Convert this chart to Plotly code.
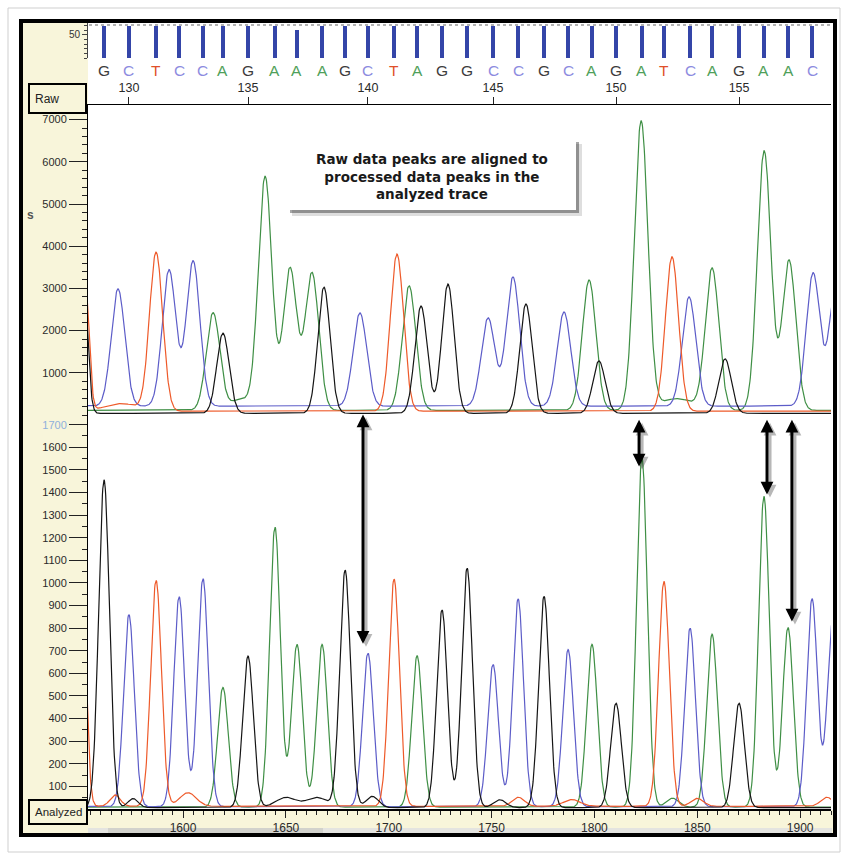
import numpy as np
import plotly.graph_objects as go

W, H = 844, 859

# ------------------------------------------------------------------ data
bases = ["G", "C", "T", "C", "C", "A", "G", "A", "A", "A", "G", "C", "T", "A", "G",
         "G", "C", "C", "G", "C", "A", "G", "A", "T", "C", "A", "G", "A", "A", "C"]
first_base_number = 129
base_scan = [1561.6, 1573.7, 1586.9, 1598.1, 1609.7, 1619.4, 1631.6, 1644.7, 1655.4, 1667.6,
             1678.8, 1689.9, 1702.6, 1713.8, 1725.9, 1738.1, 1750.7, 1762.9, 1775.5, 1787.2,
             1798.8, 1810.5, 1823.1, 1833.8, 1846.5, 1857.2, 1870.3, 1882.4, 1894.1, 1905.8]
analyzed_height = [1450, 850, 1000, 930, 1010, 530, 670, 1240, 720, 720,
                   1050, 680, 1005, 670, 875, 1060, 630, 920, 935, 695,
                   720, 462, 1545, 995, 790, 765, 462, 1375, 795, 920]
quality_values = [70, 70, 70, 70, 70, 70, 70, 70, 61, 70,
                  70, 70, 70, 70, 70, 70, 70, 70, 70, 70,
                  70, 70, 70, 70, 70, 70, 70, 70, 70, 70]

# raw trace peaks: (scan, height above baseline, width)
raw_peaks_A = [(1614.6, 2310, 3.3), (1628.0, 260, 5.0), (1639.9, 5530, 3.3), (1652.0, 3370, 3.3),
               (1662.7, 3255, 3.3), (1709.9, 2950, 3.3), (1797.4, 3090, 3.3), (1822.7, 6835, 3.3),
               (1840.0, 280, 8.0), (1857.2, 3350, 3.3), (1882.5, 6150, 3.3), (1894.6, 3560, 3.3)]
raw_peaks_C = [(1568.4, 2780, 3.3), (1593.2, 3230, 3.3), (1604.9, 3440, 3.3), (1686.0, 2210, 3.3),
               (1748.3, 2090, 3.3), (1760.4, 3060, 3.3), (1785.2, 2230, 3.3), (1846.0, 2590, 3.3),
               (1906.3, 3155, 3.3), (1917.5, 2900, 3.3)]
raw_peaks_G = [(1551.5, 3200, 2.0), (1619.4, 1900, 3.0), (1668.5, 2990, 3.0), (1715.7, 2540, 3.0),
               (1728.8, 3065, 3.0), (1766.7, 2590, 3.0), (1802.2, 1240, 3.0), (1863.5, 1290, 3.0)]
raw_peaks_T = [(1552.5, 3000, 1.8), (1570.0, 180, 8.0), (1586.9, 3750, 3.2),
               (1704.0, 3725, 3.2), (1837.7, 3660, 3.2)]
raw_baseline = {"A": 110, "C": 210, "G": 40, "T": 90}

# analyzed trace: small off-call bumps and the partial peak at the right edge
analyzed_minor_A = [(1838.0, 40, 3.0)]
analyzed_minor_C = [(1915.8, 820, 2.6)]
analyzed_minor_G = [(1575.7, 40, 2.5), (1650.0, 45, 5.0), (1665.0, 45, 5.0),
                    (1692.0, 50, 3.0), (1754.0, 35, 3.0)]
analyzed_minor_T = [(1551.0, 900, 2.0), (1567.0, 50, 2.5), (1602.4, 60, 4.0), (1763.0, 40, 3.0),
                    (1789.0, 30, 4.0), (1850.0, 35, 3.0), (1913.0, 40, 3.0)]
analyzed_baseline = {"A": 8, "C": 10, "G": 6, "T": 12}
analyzed_sigma = 2.6

raw_ticks = [1000, 2000, 3000, 4000, 5000, 6000, 7000]
analyzed_ticks = [100, 200, 300, 400, 500, 600, 700, 800, 900, 1000,
                  1100, 1200, 1300, 1400, 1500, 1600, 1700]
scan_ticks = [1600, 1650, 1700, 1750, 1800, 1850, 1900]
qv_ticks = [50]

# alignment arrows (scan position, top value, bottom value on analyzed axis)
arrow_scan = [1687.5, 1821.7, 1883.9, 1896.0]
arrow_top = [1752, 1729, 1729, 1729]
arrow_bottom = [731, 1515, 1391, 829]

note_text = "Raw data peaks are aligned to<br>processed data peaks in the<br>analyzed trace"

# ------------------------------------------------------------------ style
trace_color = {"A": "#3f8f45", "C": "#5c5cc8", "G": "#151515", "T": "#ee5a2a"}
letter_color = {"A": "#4fa05a", "C": "#8c8ce0", "G": "#3c3c3c", "T": "#e0502a"}
cream = "#f8f5da"
FONT = "Liberation Sans, Arial, sans-serif"

X_RANGE = [1553.8, 1915.0]


def pxx(x):
    return x / W


def pxy(y):
    return 1 - y / H


def gauss_sum(grid, peaks, base):
    y = np.full_like(grid, float(base))
    for c, h, s in peaks:
        y = y + h * np.exp(-0.5 * ((grid - c) / s) ** 2)
    return y


grid = np.arange(1545.0, 1925.0, 0.2)

fig = go.Figure()

# QV bars
fig.add_trace(go.Bar(x=base_scan, y=quality_values, width=1.9, marker_color="#3445a8",
                     marker_line_width=0, xaxis="x3", yaxis="y3", hoverinfo="skip"))

raw_peaks = {"A": raw_peaks_A, "C": raw_peaks_C, "G": raw_peaks_G, "T": raw_peaks_T}
analyzed_minor = {"A": analyzed_minor_A, "C": analyzed_minor_C,
                  "G": analyzed_minor_G, "T": analyzed_minor_T}

for ch in ["A", "C", "T", "G"]:
    y = gauss_sum(grid, raw_peaks[ch], raw_baseline[ch])
    fig.add_trace(go.Scatter(x=grid, y=y, mode="lines", line=dict(color=trace_color[ch], width=1.2),
                             xaxis="x2", yaxis="y2", hoverinfo="skip"))

for ch in ["A", "C", "T", "G"]:
    peaks = [(s, h, analyzed_sigma) for s, h, b in zip(base_scan, analyzed_height, bases) if b == ch]
    peaks += analyzed_minor[ch]
    y = gauss_sum(grid, peaks, analyzed_baseline[ch])
    fig.add_trace(go.Scatter(x=grid, y=y, mode="lines", line=dict(color=trace_color[ch], width=1.2),
                             xaxis="x", yaxis="y", hoverinfo="skip"))

dom_x = [pxx(88), pxx(831)]
top_idx = [i for i in range(len(bases)) if (first_base_number + i) % 5 == 0]

tickfont = dict(family=FONT, size=11, color="#2a2a2a")
ticktext_an = [str(v) for v in analyzed_ticks]
ticktext_an[-1] = "<span style='color:#8fb0dc'>1700</span>"

fig.update_layout(
    width=W, height=H, margin=dict(l=0, r=0, t=0, b=0),
    paper_bgcolor="white", plot_bgcolor="white", showlegend=False,
    bargap=0,
    xaxis=dict(domain=dom_x, range=X_RANGE, anchor="y", tickvals=scan_ticks,
               ticks="outside", ticklen=7, tickcolor="#222", tickwidth=1,
               minor=dict(dtick=5, tick0=1600, ticks="outside", ticklen=4, tickcolor="#222"),
               showline=True, linecolor="black", linewidth=1.5, showgrid=False, zeroline=False,
               tickfont=dict(family=FONT, size=12, color="#2a2a2a")),
    yaxis=dict(domain=[pxy(809), pxy(417)], range=[0, 1734], anchor="x",
               tickvals=analyzed_ticks, ticktext=ticktext_an,
               ticks="outside", ticklen=18, tickcolor="#222", tickwidth=1,
               minor=dict(dtick=50, ticks="outside", ticklen=5, tickcolor="#222"),
               showline=True, linecolor="black", linewidth=1, showgrid=False, zeroline=False,
               tickfont=tickfont),
    xaxis2=dict(domain=dom_x, range=X_RANGE, anchor="y2", side="top",
                tickvals=[base_scan[i] for i in top_idx],
                ticktext=[str(first_base_number + i) for i in top_idx],
                ticks="outside", ticklen=7, tickcolor="#222",
                showline=True, linecolor="black", linewidth=1, showgrid=False, zeroline=False,
                tickfont=dict(family=FONT, size=12.5, color="#2a2a2a")),
    yaxis2=dict(domain=[pxy(417), pxy(105)], range=[-47, 7347], anchor="x2",
                tickvals=raw_ticks, ticks="outside", ticklen=18, tickcolor="#222",
                minor=dict(dtick=200, ticks="outside", ticklen=5, tickcolor="#222"),
                showline=True, linecolor="black", linewidth=1, showgrid=False, zeroline=False,
                tickfont=tickfont),
    xaxis3=dict(domain=dom_x, range=X_RANGE, anchor="y3", visible=False),
    yaxis3=dict(domain=[pxy(58), pxy(22)], range=[0, 78], anchor="x3",
                tickvals=qv_ticks, ticks="outside", ticklen=5, tickcolor="#444",
                minor=dict(dtick=10, ticks="outside", ticklen=3, tickcolor="#444"),
                showline=True, linecolor="#444", linewidth=1, showgrid=False, zeroline=False,
                tickfont=dict(family=FONT, size=10, color="#333")),
)

shapes = []
# outer light frame
shapes.append(dict(type="rect", xref="paper", yref="paper", x0=pxx(8), x1=pxx(840),
                   y0=pxy(852), y1=pxy(8), line=dict(color="#cfcfcf", width=1), layer="below"))
# cream label panels
shapes.append(dict(type="rect", xref="paper", yref="paper", x0=pxx(22), x1=pxx(88),
                   y0=pxy(834), y1=pxy(22), fillcolor=cream, line=dict(width=0), layer="below"))
shapes.append(dict(type="rect", xref="paper", yref="paper", x0=pxx(88), x1=pxx(834),
                   y0=pxy(834), y1=pxy(810), fillcolor=cream, line=dict(width=0), layer="below"))
# scroll bar strip
shapes.append(dict(type="rect", xref="paper", yref="paper", x0=pxx(88), x1=pxx(832),
                   y0=pxy(833), y1=pxy(828), fillcolor="#e4e4e0", line=dict(width=0), layer="below"))
shapes.append(dict(type="rect", xref="paper", yref="paper", x0=pxx(108), x1=pxx(323),
                   y0=pxy(833), y1=pxy(828), fillcolor="#d2d2cc", line=dict(width=0), layer="below"))
# dashed top line of QV strip
shapes.append(dict(type="line", xref="paper", yref="paper", x0=pxx(89), x1=pxx(831),
                   y0=pxy(25), y1=pxy(25), line=dict(color="#9a9a9a", width=1.5, dash="dot"),
                   layer="above"))
# note box with drop shadow
shapes.append(dict(type="rect", xref="paper", yref="paper", x0=pxx(292), x1=pxx(582),
                   y0=pxy(216), y1=pxy(144), fillcolor="rgba(0,0,0,0.13)", line=dict(width=0),
                   layer="above"))
shapes.append(dict(type="rect", xref="paper", yref="paper", x0=pxx(290), x1=pxx(579),
                   y0=pxy(213), y1=pxy(142), fillcolor="rgba(0,0,0,0.35)", line=dict(width=0),
                   layer="above"))
shapes.append(dict(type="rect", xref="paper", yref="paper", x0=pxx(287), x1=pxx(576),
                   y0=pxy(210), y1=pxy(139), fillcolor="white", line=dict(width=0),
                   layer="above"))
# Raw / Analyzed label boxes
shapes.append(dict(type="rect", xref="paper", yref="paper", x0=pxx(29), x1=pxx(86),
                   y0=pxy(113), y1=pxy(84), fillcolor=cream, line=dict(color="black", width=2),
                   layer="above"))
shapes.append(dict(type="rect", xref="paper", yref="paper", x0=pxx(29), x1=pxx(87),
                   y0=pxy(824), y1=pxy(800), fillcolor=cream, line=dict(color="black", width=2),
                   layer="above"))
# main black frame
shapes.append(dict(type="rect", xref="paper", yref="paper", x0=pxx(21), x1=pxx(835),
                   y0=pxy(835), y1=pxy(21), line=dict(color="black", width=4), layer="above"))
fig.update_layout(shapes=shapes)

annotations = []
# base call letters
for s, b in zip(base_scan, bases):
    annotations.append(dict(x=s, y=pxy(70), xref="x", yref="paper", text=b, showarrow=False,
                            font=dict(family=FONT, size=15.5, color=letter_color[b]),
                            xanchor="center", yanchor="middle"))
# arrows (shadow first)
dx_shadow = 3 / 2.057
dy_shadow = 3 / 0.2261
for xs, yt, yb in zip(arrow_scan, arrow_top, arrow_bottom):
    for off_x, off_y, col in [(dx_shadow, -dy_shadow, "rgba(0,0,0,0.28)"), (0, 0, "black")]:
        annotations.append(dict(x=xs + off_x, y=yb + off_y, xref="x", yref="y",
                                ax=xs + off_x, ay=yt + off_y, axref="x", ayref="y",
                                text="", showarrow=True, arrowhead=2, startarrowhead=2,
                                arrowside="end+start", arrowsize=0.85, startarrowsize=0.85,
                                arrowwidth=3, arrowcolor=col, standoff=0, startstandoff=0))
# note text
annotations.append(dict(x=pxx(432), y=pxy(176), xref="paper", yref="paper",
                        text="<b>" + note_text + "</b>", showarrow=False, align="center",
                        font=dict(family="DejaVu Sans, sans-serif", size=13.5, color="#1a1a1a"),
                        xanchor="center", yanchor="middle"))
# panel labels
annotations.append(dict(x=pxx(33), y=pxy(99), xref="paper", yref="paper", text="Raw",
                        showarrow=False, xanchor="left", yanchor="middle",
                        font=dict(family=FONT, size=12, color="#222")))
annotations.append(dict(x=pxx(58), y=pxy(812), xref="paper", yref="paper", text="Analyzed",
                        showarrow=False, xanchor="center", yanchor="middle",
                        font=dict(family=FONT, size=11.5, color="#222")))
annotations.append(dict(x=pxx(31), y=pxy(215), xref="paper", yref="paper", text="<b>s</b>",
                        showarrow=False, xanchor="center", yanchor="middle",
                        font=dict(family=FONT, size=12, color="#555")))
fig.update_layout(annotations=annotations)

fig.write_html("out.html", config={"displayModeBar": False})
